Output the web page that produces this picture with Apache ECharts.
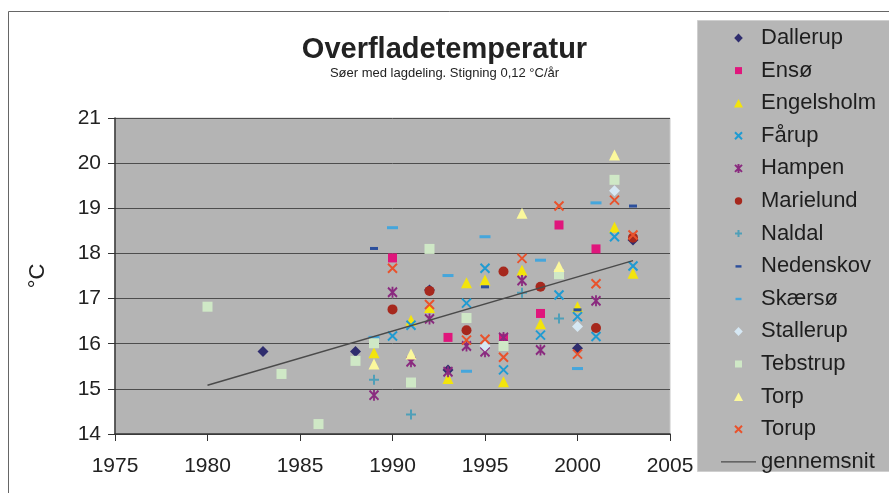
<!DOCTYPE html>
<html>
<head>
<meta charset="utf-8">
<script src="https://cdn.jsdelivr.net/npm/echarts@6/dist/echarts.min.js"></script>
<style>
  html, body { margin: 0; padding: 0; background: #fff; }
  #chart { width: 889px; height: 493px; }
</style>
</head>
<body>
<div id="chart"></div>
<script>
// aflæste målinger: [år, °C]
const dallerup = [[1983, 15.83], [1988, 15.83], [1992, 17.19], [1993, 15.42], [2000, 15.90], [2003, 18.30]]
const enso = [[1990, 17.90], [1993, 16.14], [1996, 16.12], [1998, 16.67], [1999, 18.63], [2001, 18.10]]
const engelsholm = [[1989, 15.80], [1991, 16.52], [1992, 16.80], [1993, 15.23], [1994, 17.35], [1995, 17.41],
  [1996, 15.16], [1997, 17.63], [1998, 16.44], [2000, 16.82], [2002, 18.58], [2003, 17.56]]
const farup = [[1990, 16.17], [1991, 16.41], [1994, 16.90], [1995, 17.67], [1996, 15.42], [1998, 16.19],
  [1999, 17.08], [2000, 16.60], [2001, 16.16], [2002, 18.37], [2003, 17.72]]
const hampen = [[1989, 14.86], [1990, 17.14], [1991, 15.60], [1992, 16.55], [1993, 15.38], [1994, 15.95],
  [1995, 15.82], [1996, 16.14], [1997, 17.40], [1998, 15.86], [2001, 16.95]]
const marielund = [[1990, 16.76], [1992, 17.17], [1994, 16.30], [1996, 17.60], [1998, 17.26], [2001, 16.35], [2003, 18.35]]
const naldal = [[1989, 15.20], [1991, 14.43], [1997, 17.13], [1999, 16.56]]
const nedenskov = [[1989, 18.11], [1995, 17.26], [2000, 16.75], [2003, 19.05]]
const skaerso = [[1989, 16.14], [1990, 18.57], [1993, 17.51], [1994, 15.39], [1995, 18.37], [1998, 17.85], [2000, 15.45], [2001, 19.12]]
const stallerup = [[1995, 15.95], [2000, 16.38], [2002, 19.39]]
const tebstrup = [[1980, 16.82], [1984, 15.33], [1986, 14.22], [1988, 15.62], [1989, 16.01], [1991, 15.14],
  [1992, 18.10], [1994, 16.57], [1996, 15.95], [1999, 17.54], [2002, 19.63]]
const torp = [[1989, 15.55], [1991, 15.77], [1997, 18.89], [1999, 17.71], [2002, 20.18]]
const torup = [[1990, 17.67], [1992, 16.87], [1994, 16.08], [1995, 16.10], [1996, 15.70], [1997, 17.89],
  [1999, 19.05], [2000, 15.77], [2001, 17.33], [2002, 19.18], [2003, 18.41]]
const gennemsnit = [[1980, 15.08], [2003, 17.84]]

const yearTicks = { min: 1975, max: 2005, step: 5 }
const tempTicks = { min: 14, max: 21, step: 1 }

const FONT = 'Liberation Sans'
const X_MARK = 'path://M0,0L10,10M10,0L0,10'
const STAR_MARK = 'path://M0,1L10,11M10,1L0,11M5,0L5,12'
const PLUS_MARK = 'path://M5,0L5,10M0,5L10,5'

// legend-ikoner: boks 35x10, figuren midt i
const BOX = 'path://M0,0M35,10'
const ICONS = {
  diamond: BOX + 'M17.5,0.5L21.8,5L17.5,9.5L13.2,5Z',
  rect: BOX + 'M14,1.5h7v7h-7z',
  triangle: BOX + 'M17.5,0.8L22,9.3L13,9.3Z',
  circle: BOX + 'M13.8,5a3.7,3.7 0 1,0 7.4,0a3.7,3.7 0 1,0 -7.4,0',
  x: BOX + 'M14,1.5L21,8.5M21,1.5L14,8.5',
  star: BOX + 'M14,1.5L21,8.5M21,1.5L14,8.5M17.5,0.5L17.5,9.5',
  plus: BOX + 'M17.5,1.5L17.5,8.5M14,5L21,5',
  dash: BOX + 'M14.5,4h6v2.4h-6z',
  line: BOX + 'M0,4.5h35v1.2h-35z',
}

// fyldte markører
function filled(name, data, symbol, size, color) {
  return {
    name, type: 'scatter', data, symbol, symbolSize: size,
    itemStyle: { color, opacity: 1 },
  }
}
// streg-markører (x, *, +)
function stroked(name, data, symbol, size, color) {
  return {
    name, type: 'scatter', data, symbol, symbolSize: size,
    itemStyle: { color: 'rgba(0,0,0,0)', borderColor: color, borderWidth: 2, opacity: 1 },
  }
}

const series = [
  filled('Dallerup', dallerup, 'diamond', 11, '#2f2d6e'),
  filled('Ensø', enso, 'rect', 9, '#e0167c'),
  filled('Engelsholm', engelsholm, 'triangle', 11, '#f3e40c'),
  stroked('Fårup', farup, X_MARK, 9, '#1f9bd2'),
  stroked('Hampen', hampen, STAR_MARK, [9, 11], '#8a2a7f'),
  filled('Marielund', marielund, 'circle', 10, '#a6281d'),
  stroked('Naldal', naldal, PLUS_MARK, 10, '#4f9fb8'),
  filled('Nedenskov', nedenskov, 'rect', [8, 3], '#2c4f9c'),
  filled('Skærsø', skaerso, 'rect', [11, 3], '#45a6dc'),
  filled('Stallerup', stallerup, 'diamond', 11, '#d6e8f4'),
  filled('Tebstrup', tebstrup, 'rect', 10, '#cfe8c6'),
  filled('Torp', torp, 'triangle', 11, '#fbf89c'),
  stroked('Torup', torup, X_MARK, 9, '#e9522c'),
  {
    name: 'gennemsnit', type: 'line', data: gennemsnit, symbol: 'none',
    lineStyle: { color: '#4a4a4a', width: 1.5 }, itemStyle: { color: '#4a4a4a' },
  },
]

const legendIcon = ['diamond', 'rect', 'triangle', 'x', 'star', 'circle', 'plus',
  'dash', 'dash', 'diamond', 'rect', 'triangle', 'x', 'line']
const legendData = series.map((s, i) => ({ name: s.name, icon: ICONS[legendIcon[i]] }))

const chart = echarts.init(document.getElementById('chart'), null, { renderer: 'canvas' })
chart.setOption({
  animation: false,
  backgroundColor: '#fff',
  textStyle: { fontFamily: FONT },
  title: {
    text: 'Overfladetemperatur',
    subtext: 'Søer med lagdeling. Stigning 0,12 °C/år',
    left: 'center',
    top: 30,
    itemGap: 3,
    textStyle: { fontFamily: FONT, fontSize: 29, fontWeight: 'bold', color: '#222' },
    subtextStyle: { fontFamily: FONT, fontSize: 13, color: '#222' },
  },
  graphic: [
    {
      type: 'rect', z: -10, silent: true,
      shape: { x: 8.5, y: 11.5, width: 920, height: 520 },
      style: { fill: '#fff', stroke: '#666', lineWidth: 1 },
    },
    {
      type: 'rect', z: -5, silent: true,
      shape: { x: 697.5, y: 20.5, width: 200, height: 451 },
      style: { fill: '#b6b6b6', stroke: '#cfcfcf', lineWidth: 1 },
    },
  ],
  legend: {
    orient: 'vertical',
    left: 720,
    top: 26,
    padding: 0,
    itemWidth: 35,
    itemHeight: 10,
    itemGap: 8.6,
    selectedMode: false,
    data: legendData,
    textStyle: { fontFamily: FONT, fontSize: 22, lineHeight: 24, color: '#1e1e1e' },
  },
  grid: {
    left: 115, right: 219, top: 118, bottom: 59,
    show: true, backgroundColor: '#b4b4b4', borderColor: '#c8c8c8', borderWidth: 1,
  },
  xAxis: {
    type: 'value',
    min: yearTicks.min, max: yearTicks.max, interval: yearTicks.step,
    axisLine: { show: true, onZero: false, lineStyle: { color: '#333', width: 1.5 } },
    axisTick: { show: true, length: 7, lineStyle: { color: '#333' } },
    splitLine: { show: false },
    axisLabel: {
      fontFamily: FONT, fontSize: 21, color: '#222', margin: 22,
      showMinLabel: true, showMaxLabel: true,
      formatter: v => String(v),
    },
  },
  yAxis: {
    type: 'value',
    min: tempTicks.min, max: tempTicks.max, interval: tempTicks.step,
    name: '°C',
    nameLocation: 'middle',
    nameRotate: 90,
    nameGap: 66,
    nameTextStyle: { fontFamily: FONT, fontSize: 22, color: '#222' },
    axisLine: { show: true, onZero: false, lineStyle: { color: '#333', width: 1.5 } },
    axisTick: { show: true, length: 7, lineStyle: { color: '#333' } },
    splitLine: { show: true, lineStyle: { color: '#4d4d4d', width: 1 } },
    axisLabel: { fontFamily: FONT, fontSize: 21, color: '#222', margin: 14, showMinLabel: true, showMaxLabel: true },
  },
  series,
})
</script>
</body>
</html>
